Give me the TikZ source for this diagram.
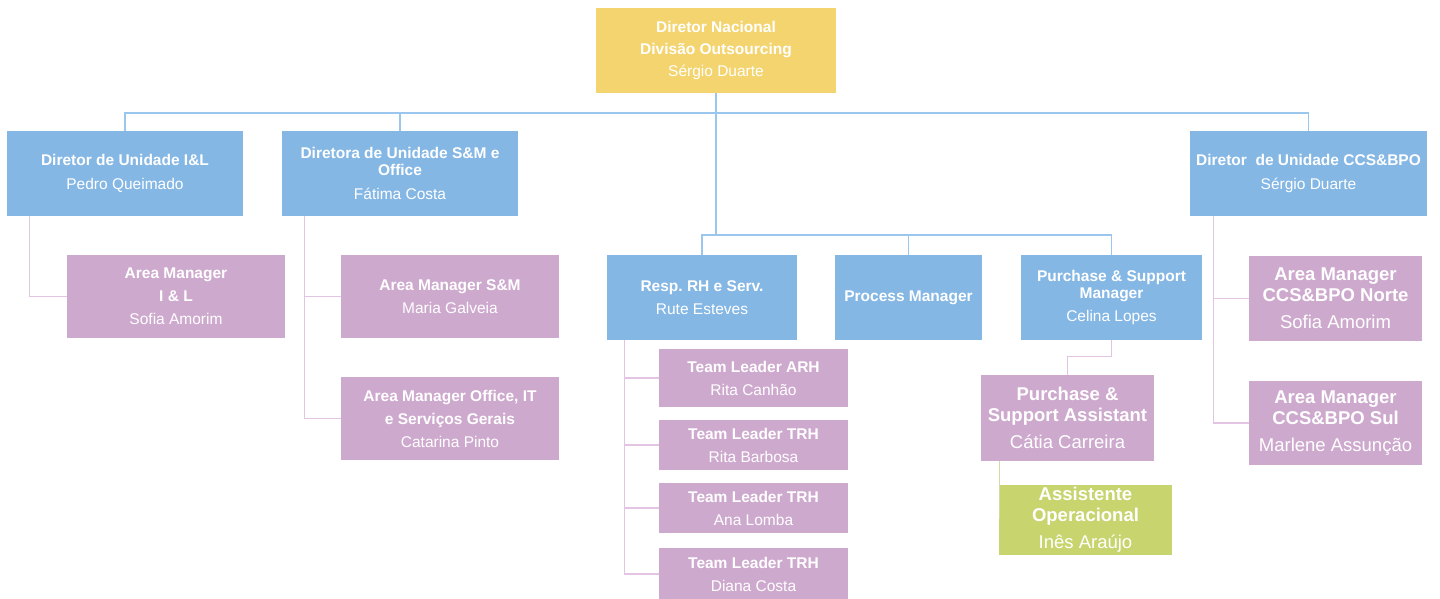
\documentclass[tikz,border=0pt]{standalone}
\usepackage{fontspec}
\setmainfont{Liberation Sans}
\usetikzlibrary{positioning}

\definecolor{amarelo}{HTML}{F3D46E}
\definecolor{azul}{HTML}{85B7E5}
\definecolor{roxo}{HTML}{CEA9CE}
\definecolor{verde}{HTML}{C8D46E}
\definecolor{azullinha}{HTML}{9BC7EE}
\definecolor{roxolinha}{HTML}{E3C5E3}
\definecolor{verdelinha}{HTML}{D3DAA6}

\tikzset{
  caixa/.style={inner sep=0pt, align=center, text=white,
    font=\fontsize{15.5}{17}\selectfont},
  nacional/.style={caixa, fill=amarelo, minimum width=240pt, minimum height=85pt},
  unidade/.style={caixa, fill=azul},
  gestor/.style={caixa, fill=roxo},
  grande/.style={font=\fontsize{18.5}{21}\selectfont},
  operacional/.style={caixa, grande, fill=verde},
  linhaazul/.style={draw=azullinha, line width=1.2pt},
  linharoxa/.style={draw=roxolinha, line width=1.2pt},
  linhaverde/.style={draw=verdelinha, line width=1.2pt}
}

\begin{document}
\begin{tikzpicture}[x=1pt, y=-1pt]
\useasboundingbox (0,0) rectangle (1440,598);

% topo
\node[nacional] (nac) at (716,50.5) {\textbf{Diretor Nacional}\\[5pt]\textbf{Divisão Outsourcing}\\[5pt]Sérgio Duarte};

% diretores de unidade
\node[unidade, minimum width=236pt, minimum height=85pt] (dirIL) at (125,173.5) {\textbf{Diretor de Unidade I\&L}\\[7pt]Pedro Queimado};
\node[unidade, minimum width=236pt, minimum height=85pt] (dirSM) at (400,173.5) {\textbf{Diretora de Unidade S\&M e}\\\textbf{Office}\\[7pt]Fátima Costa};
\node[unidade, minimum width=237pt, minimum height=85pt] (dirCCS) at (1308.5,173.5) {\textbf{Diretor\ \ de Unidade CCS\&BPO}\\[7pt]Sérgio Duarte};

% area managers
\node[gestor, minimum width=218pt, minimum height=83pt] (amIL) at (176,296.5) {\textbf{Area Manager}\\[6pt]\textbf{I \& L}\\[6pt]Sofia Amorim};
\node[gestor, minimum width=218pt, minimum height=83pt] (amSM) at (450,296.5) {\textbf{Area Manager S\&M}\\[6pt]Maria Galveia};
\node[gestor, minimum width=218pt, minimum height=83pt] (amOff) at (450,418.5) {\textbf{Area Manager Office, IT}\\[6pt]\textbf{e Serviços Gerais}\\[6pt]Catarina Pinto};
\node[gestor, grande, minimum width=173pt, minimum height=85pt] (amNorte) at (1335.5,298.5) {\textbf{Area Manager}\\\textbf{CCS\&BPO Norte}\\[6pt]Sofia Amorim};
\node[gestor, grande, minimum width=173pt, minimum height=84pt] (amSul) at (1335.5,423) {\textbf{Area Manager}\\\textbf{CCS\&BPO Sul}\\[6pt]Marlene Assunção};

% estrutura central
\node[unidade, minimum width=190pt, minimum height=85pt] (resp) at (702,297.5) {\textbf{Resp.\ RH e Serv.}\\[6pt]Rute Esteves};
\node[unidade, minimum width=147pt, minimum height=85pt] (proc) at (908.5,297.5) {\textbf{Process Manager}};
\node[unidade, minimum width=181pt, minimum height=85pt] (purch) at (1111.5,297.5) {\textbf{Purchase \& Support}\\\textbf{Manager}\\[6pt]Celina Lopes};

\node[gestor, minimum width=189pt, minimum height=58pt] (tlA) at (753.5,378) {\textbf{Team Leader ARH}\\[6pt]Rita Canhão};
\node[gestor, minimum width=189pt, minimum height=50pt] (tlB) at (753.5,445) {\textbf{Team Leader TRH}\\[6pt]Rita Barbosa};
\node[gestor, minimum width=189pt, minimum height=50pt] (tlC) at (753.5,508) {\textbf{Team Leader TRH}\\[6pt]Ana Lomba};
\node[gestor, minimum width=189pt, minimum height=52pt] (tlD) at (753.5,574) {\textbf{Team Leader TRH}\\[6pt]Diana Costa};

\node[gestor, grande, minimum width=173pt, minimum height=86pt] (pAssist) at (1067.5,418) {\textbf{Purchase \&}\\\textbf{Support Assistant}\\[6pt]Cátia Carreira};
\node[operacional, minimum width=173pt, minimum height=70pt] (assOp) at (1085.5,519.5) {\textbf{Assistente}\\\textbf{Operacional}\\[6pt]Inês Araújo};

% ligacoes azuis
\coordinate (barra) at (716,113);
\coordinate (meio) at (716,235);
\draw[linhaazul] (nac.south) -- (meio);
\draw[linhaazul] (dirIL.north) |- (barra) -| (dirCCS.north);
\draw[linhaazul] (dirSM.north) -- (dirSM.north |- barra);
\draw[linhaazul] (resp.north) |- (meio) -| (purch.north);
\draw[linhaazul] (proc.north) -- (proc.north |- meio);

% ligacoes roxas
\draw[linharoxa] ([xshift=23pt]dirIL.south west) |- (amIL.west);
\coordinate (smL) at ([xshift=23pt]dirSM.south west);
\draw[linharoxa] (smL) |- (amOff.west);
\draw[linharoxa] (amSM.west) -- (amSM.west -| smL);
\coordinate (ccsL) at ([xshift=24pt]dirCCS.south west);
\draw[linharoxa] (ccsL) |- (amSul.west);
\draw[linharoxa] (amNorte.west) -- (amNorte.west -| ccsL);
\coordinate (rhL) at ([xshift=18pt]resp.south west);
\draw[linharoxa] (rhL) |- (tlD.west);
\draw[linharoxa] (tlA.west) -- (tlA.west -| rhL);
\draw[linharoxa] (tlB.west) -- (tlB.west -| rhL);
\draw[linharoxa] (tlC.west) -- (tlC.west -| rhL);
\draw[linharoxa] (purch.south) -- ++(0,16) -| (pAssist.north);

% ligacao verde
\draw[linhaverde] ([xshift=19pt]pAssist.south west) -- ++(0,58);
\end{tikzpicture}
\end{document}
